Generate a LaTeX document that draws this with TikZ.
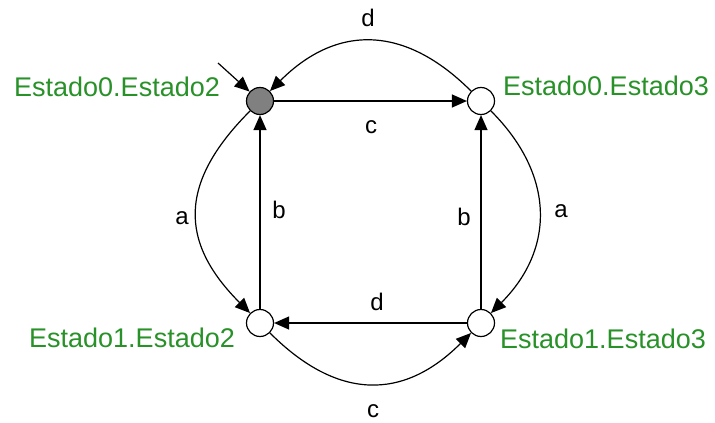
\documentclass[tikz,border=0pt]{standalone}
\usepackage{fontspec}
\setmainfont{Liberation Sans}
\usetikzlibrary{arrows.meta}
\definecolor{lblgreen}{RGB}{40,145,40}
\tikzset{
  state/.style={circle, draw=black, line width=1.2pt, minimum size=27pt, inner sep=0pt, fill=white},
  arr/.style={line width=1.2pt, -{Triangle[length=15pt,width=13pt]}},
  slbl/.style={text=lblgreen, font=\fontsize{27}{31}\selectfont, anchor=base, inner sep=0pt},
  elbl/.style={font=\fontsize{24}{28}\selectfont, anchor=base, inner sep=0pt},
}
\begin{document}
\begin{tikzpicture}[x=1pt,y=-1pt]
\useasboundingbox (0,0) rectangle (715,423);
\node[state, fill=gray] (n02) at (260,101) {};
\node[state] (n03) at (481,101) {};
\node[state] (n12) at (260,323) {};
\node[state] (n13) at (481,323) {};

\node[slbl] (l02) at (117,96.7) {Estado0.Estado2};
\node[slbl] (l03) at (606,95) {Estado0.Estado3};
\node[slbl] (l12) at (132,347) {Estado1.Estado2};
\node[slbl] (l13) at (603,348) {Estado1.Estado3};

\coordinate (init) at (218,63);
\draw[arr] (init) -- (n02);

\draw[arr] (n02) -- (n03);
\draw[arr] (n12) -- (n02);
\draw[arr] (n13) -- (n03);
\draw[arr] (n13) -- (n12);

\draw[arr] (n03) to[bend right=45, looseness=1.2] (n02);
\draw[arr] (n02) to[bend right=45, looseness=1.28] (n12);
\draw[arr] (n03) to[bend left=45, looseness=1.15] (n13);
\draw[arr] (n12) to[bend right=45, looseness=1.22] (n13);

\node[elbl] (ed1) at (368,27) {d};
\node[elbl] (ec1) at (371,133) {c};
\node[elbl] (ea1) at (182,224) {a};
\node[elbl] (eb1) at (279,218) {b};
\node[elbl] (eb2) at (464,225) {b};
\node[elbl] (ea2) at (561,217) {a};
\node[elbl] (ed2) at (377,310) {d};
\node[elbl] (ec2) at (373,417) {c};
\end{tikzpicture}
\end{document}
